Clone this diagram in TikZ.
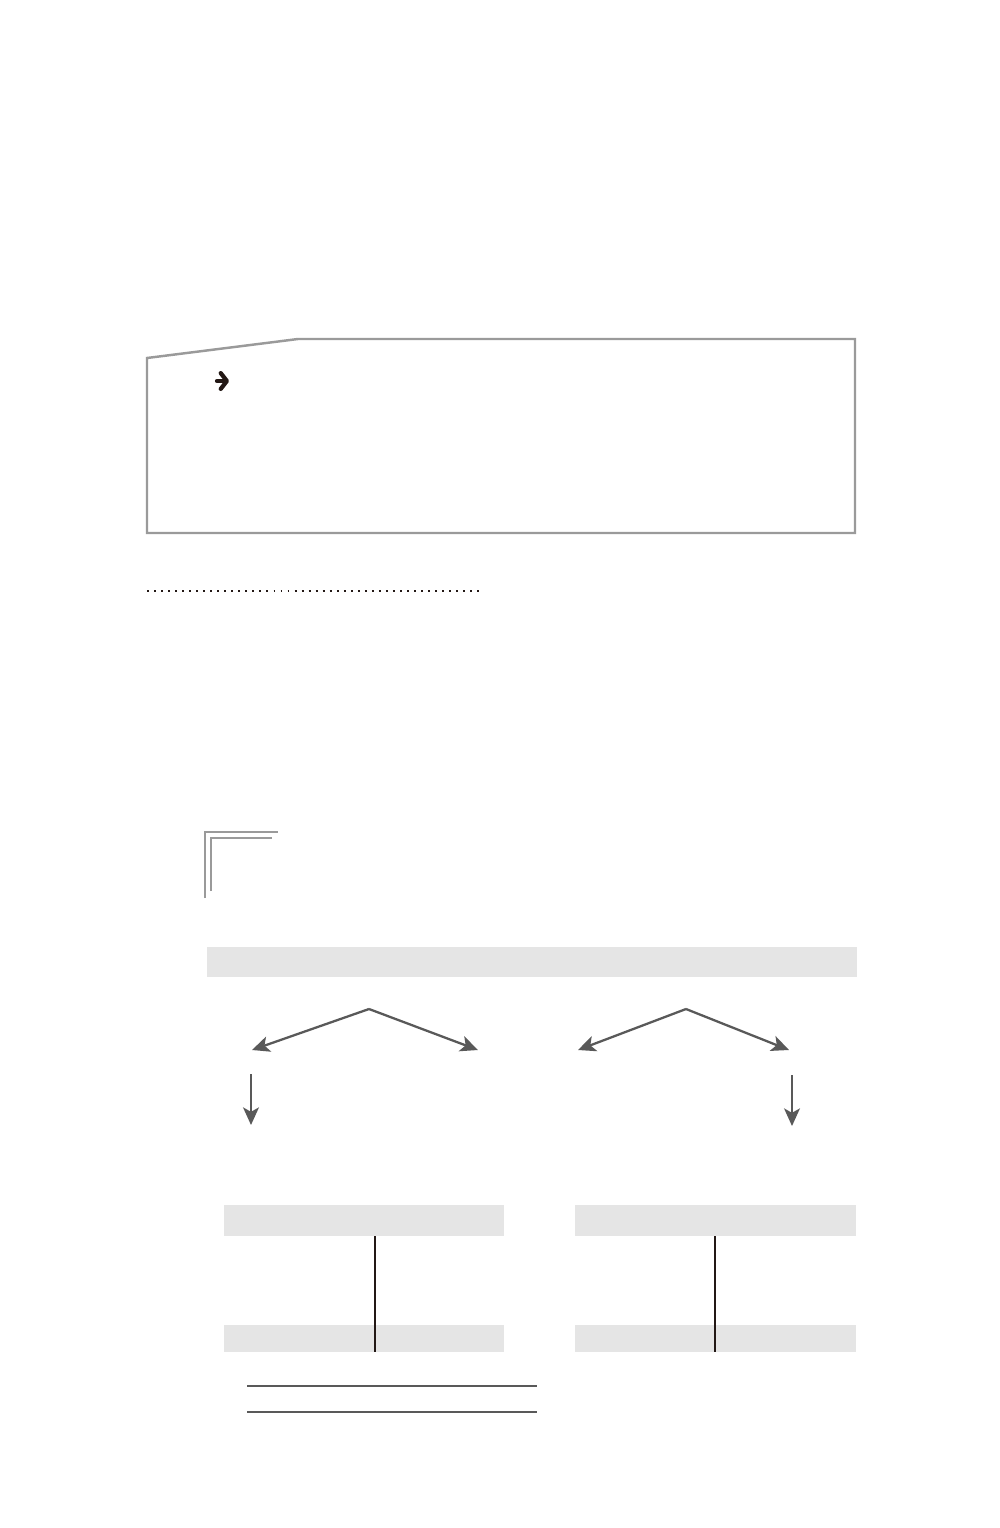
\documentclass[tikz,border=0pt]{standalone}
\usepackage{tikz}
\usetikzlibrary{arrows.meta}

\definecolor{framegray}{HTML}{9A9A9A}
\definecolor{bargray}{HTML}{E5E5E5}
\definecolor{arrowgray}{HTML}{595959}
\definecolor{inkdark}{HTML}{231815}

\tikzset{
  flowarrow/.style={draw=arrowgray, line width=1.3pt, -{Stealth[length=10pt,width=9pt,inset=2.5pt]}},
  tableline/.style={draw=inkdark, line width=0.8pt},
  ruleline/.style={draw=arrowgray, line width=0.9pt}
}

\begin{document}
\begin{tikzpicture}[x=0.02cm, y=-0.02cm]
                \useasboundingbox (0,0) rectangle (1000,1528);
                 % note box with slanted tab
                 \draw[framegray, line width=1.4pt] (147,358) -- (298,339) -- (855,339) -- (855,533) -- (147,533) -- cycle;
                 \draw[inkdark, line width=2.4pt, line cap=round, -{Straight Barb[length=3.5pt,width=9pt,line cap=round,line join=round]}] (217,381) -- (229,381);
                 % dotted rule
                 \draw[inkdark, line width=1.1pt, dash pattern=on 1.1pt off 2.9pt] (147,591) -- (484,591);
                 % double corner mark
                 \draw[framegray, line width=1pt] (205,898) -- (205,832) -- (278,832);
                 \draw[framegray, line width=1pt] (211,891) -- (211,838) -- (272,838);
                 % header bar
                 \fill[bargray] (207,947) rectangle (857,977);
                 % branching arrows
                 \coordinate (lapex) at (369,1009);
                 \coordinate (lleft) at (252,1050);
                 \coordinate (lright) at (478,1050);
                 \coordinate (rapex) at (686,1009);
                 \coordinate (rleft) at (578,1050);
                 \coordinate (rright) at (789,1050);
                 \draw[flowarrow] (lapex) -- (lleft);
                 \draw[flowarrow] (lapex) -- (lright);
                 \draw[flowarrow] (rapex) -- (rleft);
                 \draw[flowarrow] (rapex) -- (rright);
                 \coordinate (ldtop) at (251,1074);
                 \coordinate (ldbot) at (251,1125);
                 \coordinate (rdtop) at (792,1075);
                 \coordinate (rdbot) at (792,1126);
                 \draw[flowarrow] (ldtop) -- (ldbot);
                 \draw[flowarrow] (rdtop) -- (rdbot);
                 % two T-accounts
                 \foreach \xl/\xm/\xr in {224/375/504, 575/715/856} {
                   \fill[bargray] (\xl,1205) rectangle (\xr,1236);
                   \fill[bargray] (\xl,1325) rectangle (\xr,1352);
                   \draw[tableline] (\xm,1236) -- (\xm,1352);
                 }
                 % closing rules
                 \draw[ruleline] (247,1386) -- (537,1386);
                 \draw[ruleline] (247,1412) -- (537,1412);
            \end{tikzpicture}
\end{document}
